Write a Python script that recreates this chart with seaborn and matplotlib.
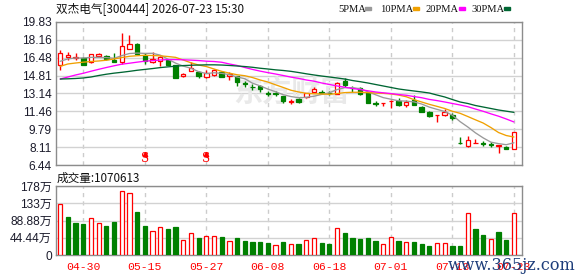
import matplotlib
matplotlib.use("Agg")
import numpy as np
import pandas as pd
import matplotlib.pyplot as plt
import matplotlib.transforms as mtransforms
from matplotlib.patches import Rectangle
import seaborn as sns

# ---------------- data ----------------
title_text = "双杰电气[300444] 2026-07-23 15:30"
volume_text = "成交量:1070613"
date_labels = ["04-30", "05-15", "05-27", "06-08", "06-18", "07-01", "07-13", "07-23"]
date_index = [3, 11, 19, 27, 35, 43, 51, 59]
signal_index = [11, 19]
ma_names = ["5PMA", "10PMA", "20PMA", "30PMA"]

open_ = [15.78, 16.58, 16.50, 16.46, 16.08, 16.67, 16.65, 16.30, 16.05, 17.33,
         17.77, 16.71, 16.05, 16.15, 16.24, 15.80, 14.74, 15.21, 15.18, 14.65,
         14.90, 15.18, 14.77, 14.77, 14.08, 13.77, 13.84, 13.15, 13.16, 12.90,
         12.35, 12.65, 12.78, 13.25, 13.28, 13.20, 13.06, 14.33, 13.67, 13.62,
         13.27, 12.20, 12.22, 12.40, 12.46, 12.03, 12.53, 11.90, 11.43, 11.10,
         11.12, 11.15, 8.49, 8.25, 8.48, 8.49, 8.36, 8.24, 8.15, 7.94]
high = [17.18, 16.99, 16.93, 16.52, 16.83, 16.93, 16.71, 16.93, 18.80, 18.58,
        17.86, 16.93, 17.05, 16.62, 16.30, 15.85, 15.03, 16.05, 15.27, 15.33,
        15.43, 15.27, 15.12, 14.80, 14.30, 14.02, 13.96, 13.34, 13.34, 12.90,
        12.60, 12.75, 13.15, 13.77, 13.46, 13.40, 14.24, 14.56, 13.87, 13.72,
        13.30, 12.40, 12.27, 12.48, 12.68, 12.53, 13.00, 11.95, 11.50, 11.16,
        11.65, 11.28, 9.03, 9.16, 8.92, 8.69, 8.62, 8.30, 8.20, 9.50]
low = [15.36, 16.27, 16.27, 15.78, 15.96, 16.67, 16.24, 16.05, 15.90, 17.33,
       16.83, 15.90, 16.02, 15.74, 15.78, 14.58, 14.65, 15.21, 14.61, 14.58,
       14.80, 14.71, 14.43, 13.84, 13.77, 13.49, 13.28, 12.87, 12.87, 12.27,
       12.15, 12.25, 12.75, 13.25, 13.06, 13.02, 13.06, 13.77, 13.30, 12.99,
       12.20, 11.96, 11.99, 11.80, 11.99, 11.90, 12.03, 11.40, 10.91, 10.44,
       11.03, 10.65, 8.45, 8.15, 8.46, 8.25, 8.15, 7.59, 7.90, 7.94]
close = [16.93, 16.77, 16.53, 15.83, 16.83, 16.86, 16.39, 16.11, 17.55, 17.77,
         16.83, 16.15, 16.35, 16.52, 15.83, 14.61, 14.96, 15.49, 14.80, 15.03,
         15.33, 14.71, 14.96, 14.18, 14.02, 13.71, 13.53, 13.09, 13.12, 12.43,
         12.45, 12.35, 13.15, 13.53, 13.22, 13.15, 14.09, 13.90, 13.63, 13.06,
         12.22, 12.16, 12.27, 12.46, 12.06, 12.37, 12.06, 11.43, 11.06, 11.16,
         11.37, 10.81, 8.46, 8.78, 8.52, 8.45, 8.32, 8.28, 7.94, 9.50]
# volume in 万 (10k lots); 1 = red (up) bar, 0 = green (down) bar
volume = [131.6, 98.0, 83.4, 80.8, 94.6, 82.6, 74.8, 85.1, 164.3, 159.1,
          110.9, 74.8, 61.1, 71.4, 67.1, 72.2, 38.7, 56.0, 43.9, 49.0,
          49.0, 46.4, 36.1, 43.9, 36.9, 33.5, 33.5, 31.0, 25.0, 33.5,
          28.4, 28.4, 38.7, 43.1, 31.0, 28.4, 68.9, 56.8, 43.9, 41.3,
          43.9, 36.9, 28.4, 45.7, 36.9, 33.5, 33.5, 28.4, 23.2, 31.0,
          31.0, 23.2, 23.2, 108.4, 67.1, 51.6, 41.3, 59.3, 38.7, 107.06]
volume_up = [1, 0, 0, 0, 1, 1, 0, 0, 1, 1, 0, 0, 1, 1, 0, 0, 1, 1, 0, 1,
             1, 0, 1, 0, 0, 0, 0, 0, 1, 0, 1, 0, 1, 1, 0, 0, 1, 0, 0, 0,
             0, 0, 1, 1, 0, 1, 0, 0, 0, 1, 1, 0, 0, 1, 0, 0, 1, 0, 0, 1]
ma5 = [16.15, 16.38, 16.46, 16.46, 16.52, 16.52, 16.50, 16.43, 16.68, 16.88,
       16.92, 16.89, 16.90, 16.73, 16.35, 15.98, 15.70, 15.50, 15.18, 15.00,
       15.08, 15.02, 14.90, 14.68, 14.52, 14.10, 13.85, 13.55, 13.30, 13.02,
       12.85, 12.74, 12.78, 12.88, 13.05, 13.20, 13.50, 13.68, 13.68, 13.58,
       13.30, 13.02, 12.75, 12.60, 12.45, 12.42, 12.35, 12.15, 11.86, 11.65,
       11.45, 11.10, 10.50, 10.00, 9.45, 8.98, 8.58, 8.44, 8.34, 8.52]
ma10 = [15.68, 15.90, 15.99, 16.07, 16.13, 16.18, 16.25, 16.37, 16.50, 16.62,
        16.67, 16.71, 16.69, 16.66, 16.60, 16.52, 16.27, 16.01, 15.80, 15.66,
        15.43, 15.21, 15.04, 14.89, 14.80, 14.63, 14.40, 14.21, 13.95, 13.70,
        13.44, 13.28, 13.15, 13.11, 13.09, 13.06, 13.13, 13.22, 13.25, 13.25,
        13.22, 13.18, 13.15, 13.09, 12.99, 12.83, 12.56, 12.34, 12.12, 11.93,
        11.73, 11.47, 11.28, 10.98, 10.67, 10.37, 9.95, 9.48, 9.20, 9.06]
ma20 = [14.49, 14.68, 14.87, 15.03, 15.22, 15.40, 15.57, 15.73, 15.88, 15.97,
        16.07, 16.16, 16.21, 16.27, 16.31, 16.31, 16.29, 16.26, 16.22, 16.16,
        16.13, 16.06, 15.90, 15.76, 15.57, 15.39, 15.23, 15.09, 14.96, 14.82,
        14.67, 14.55, 14.40, 14.29, 14.12, 13.98, 13.84, 13.72, 13.61, 13.50,
        13.39, 13.28, 13.20, 13.13, 13.04, 12.97, 12.85, 12.74, 12.58, 12.47,
        12.34, 12.20, 12.06, 11.90, 11.68, 11.47, 11.23, 11.01, 10.75, 10.47]
ma30 = [14.49, 14.51, 14.54, 14.59, 14.68, 14.82, 14.94, 15.04, 15.12, 15.21,
        15.31, 15.39, 15.47, 15.56, 15.63, 15.69, 15.75, 15.78, 15.80, 15.82,
        15.82, 15.80, 15.76, 15.71, 15.66, 15.59, 15.50, 15.43, 15.35, 15.29,
        15.21, 15.10, 14.98, 14.87, 14.77, 14.68, 14.59, 14.49, 14.35, 14.24,
        14.12, 13.98, 13.84, 13.70, 13.56, 13.46, 13.37, 13.28, 13.18, 12.99,
        12.81, 12.57, 12.34, 12.20, 12.01, 11.87, 11.73, 11.59, 11.48, 11.37]
price_ticks = [6.44, 8.11, 9.79, 11.46, 13.14, 14.81, 16.48, 18.16, 19.83]
volume_ticks = [0, 44.44, 88.88, 133.32, 177.76]
volume_tick_labels = ["0", "44.44万", "88.88万", "133万", "178万"]

# ---------------- styling ----------------
sns.set_theme(style="white")
plt.rcParams["font.family"] = ["Liberation Sans", "Noto Sans CJK SC", "DejaVu Sans"]

RED = "#ff0000"
GREEN = "#008000"
MA_COLORS = ["#999999", "#f0a000", "#ff00ff", "#006633"]
SPINE = "#8c8c8c"
HGRID = "#d2d2d2"
VGRID = "#cccccc"
LABEL = "#1b1b2b"

df = pd.DataFrame({"open": open_, "high": high, "low": low, "close": close,
                   "volume": volume, "vol_up": volume_up,
                   "ma5": ma5, "ma10": ma10, "ma20": ma20, "ma30": ma30})
df["i"] = np.arange(len(df))
n = len(df)

W, H = 578, 276
fig = plt.figure(figsize=(W / 100, H / 100), dpi=100)
fig.patch.set_facecolor("white")


def fx(px):
    return px / W


def fy(py):
    return 1 - py / H


L, R = 56, 522
ax = fig.add_axes([fx(L), fy(165), (R - L) / W, (165 - 22) / H])
axv = fig.add_axes([fx(L), fy(255), (R - L) / W, (255 - 186) / H])
xlim = (-0.55, n + 0.05)

for a in (ax, axv):
    a.set_facecolor("white")
    a.set_xlim(*xlim)
    for s in a.spines.values():
        s.set_color(SPINE)
        s.set_linewidth(1.0)
        s.set_visible(True)
    a.set_xticks(date_index)
    a.grid(axis="y", color=HGRID, lw=1.0, ls="-", zorder=0)
    a.grid(axis="x", color=VGRID, lw=1.0, ls=(0, (3, 3)), zorder=0)
    a.set_axisbelow(True)
    a.tick_params(axis="both", length=0)

# ---- price panel ----
ax.set_ylim(price_ticks[0], price_ticks[-1])
ax.set_yticks(price_ticks)
ax.set_yticklabels([f"{v:.2f}" for v in price_ticks])
ax.tick_params(axis="y", pad=3, labelsize=8.6, labelcolor=LABEL)
ax.tick_params(axis="x", labelbottom=False)

# watermark
ax.text(0.505, 0.51, "东方财富", transform=ax.transAxes, ha="center", va="center",
        fontsize=21, fontweight="bold", color="#e9e9e9", style="italic",
        family=["Noto Sans CJK SC"], zorder=1)

up = df["close"] >= df["open"]
edge = np.where(up, RED, GREEN)
face = np.where(up, "white", GREEN)
ax.vlines(df["i"], df["low"], df["high"], colors=edge, lw=1.0, zorder=3)
body_lo = np.minimum(df["open"], df["close"])
body_h = np.maximum((df["close"] - df["open"]).abs(), 0.012)
ax.bar(df["i"], body_h, bottom=body_lo, width=0.58, color=face,
       edgecolor=edge, linewidth=0.9, zorder=4)

for col, c in zip(["ma5", "ma10", "ma20", "ma30"], MA_COLORS):
    sns.lineplot(data=df, x="i", y=col, ax=ax, color=c, lw=0.95,
                 legend=False, zorder=5)
ax.set_xlabel("")
ax.set_ylabel("")
ax.set_xlim(*xlim)

# S signals
trans = mtransforms.blended_transform_factory(ax.transData, ax.transAxes)
for s in signal_index:
    ax.text(s, 0.0, "S", transform=trans, ha="center", va="bottom",
            color=RED, fontsize=8.5, family=["DejaVu Serif"], zorder=6)
    ax.plot([s], [0.077], marker="^", ms=3.2, color=RED, transform=trans,
            zorder=6, clip_on=False)

# ---- volume panel ----
vcol = np.where(df["vol_up"] == 1, RED, GREEN)
vface = np.where(df["vol_up"] == 1, "white", GREEN)
axv.bar(df["i"], df["volume"], width=0.55, color=vface, edgecolor=vcol,
        linewidth=0.9, zorder=3)
axv.set_ylim(volume_ticks[0], volume_ticks[-1])
axv.set_yticks(volume_ticks)
axv.set_yticklabels(volume_tick_labels)
axv.tick_params(axis="y", pad=3, labelsize=8.6, labelcolor=LABEL)
axv.set_xticks(date_index)
axv.set_xticklabels(date_labels, family=["Liberation Mono"], fontsize=8.2)
axv.tick_params(axis="x", pad=5, labelcolor=RED)
axv.set_xlabel("")
axv.set_ylabel("")

# ---- texts ----
fig.text(fx(56), fy(8.5), title_text, ha="left", va="center", fontsize=8.4,
         color="#111111", family=["Noto Sans CJK SC", "DejaVu Sans"])
fig.text(fx(57), fy(178), volume_text, ha="left", va="center", fontsize=8.4,
         color="#111111", family=["Noto Sans CJK SC", "DejaVu Sans"])

leg_text_x = [338, 380, 425, 471]
leg_box_x = [365, 413, 459, 504]
for name, c, tx, bx in zip(ma_names, MA_COLORS, leg_text_x, leg_box_x):
    fig.text(fx(tx), fy(9), name, ha="left", va="center", fontsize=7.6,
             color="#111111", family=["Liberation Serif"])
    fig.patches.append(Rectangle((fx(bx), fy(10.3)), 6 / W, 3.4 / H,
                                 transform=fig.transFigure, color=c))

fig.text(fx(512), fy(266), "www.365jz.com", ha="center", va="center",
         fontsize=11.5, color="#1d3d7a", family=["DejaVu Serif"], zorder=10)

fig.savefig("out.png", dpi=100, facecolor="white")
